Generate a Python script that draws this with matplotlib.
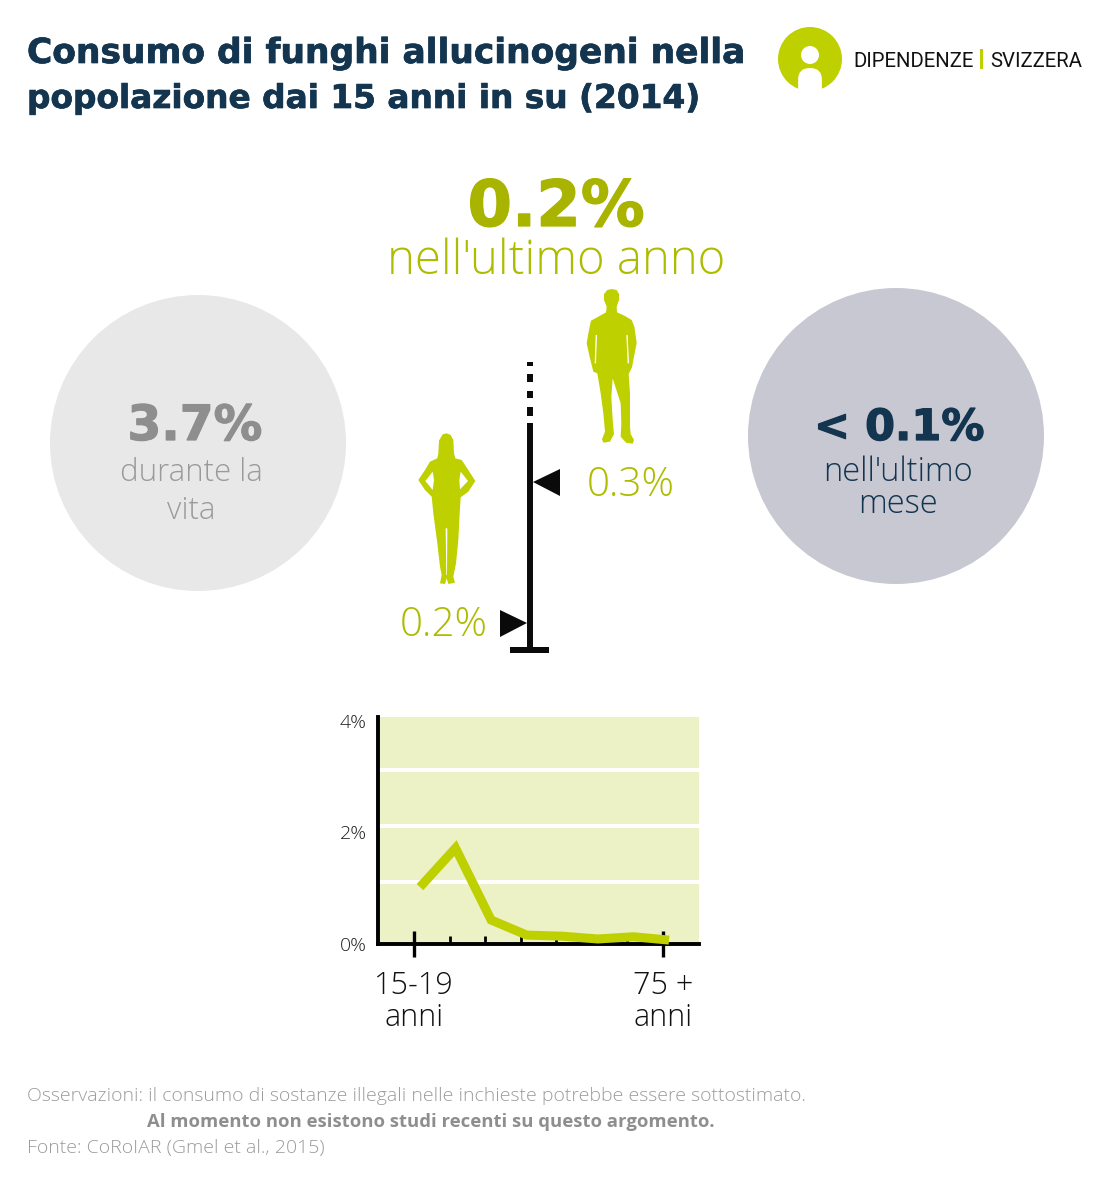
import numpy as np
import matplotlib
matplotlib.use('Agg')
import matplotlib.pyplot as plt
import matplotlib.patheffects as pe
from matplotlib.patches import Circle, Polygon, Rectangle, FancyBboxPatch
from matplotlib.transforms import Affine2D

plt.rcParams['font.family'] = ['Open Sans', 'DejaVu Sans']

# data
ages = np.arange(8)
age_labels = ['15-19\nanni', '75 +\nanni']
consumption = [1.02, 1.72, 0.43, 0.16, 0.14, 0.09, 0.13, 0.07]
y_ticks = [0, 2, 4]
y_tick_labels = ['0%', '2%', '4%']
white_lines = [1.11, 2.11, 3.12]

title_lines = ['Consumo di funghi allucinogeni nella', 'popolazione dai 15 anni in su (2014)']
note_lines = ['Osservazioni: il consumo di sostanze illegali nelle inchieste potrebbe essere sottostimato.',
              'Al momento non esistono studi recenti su questo argomento.',
              'Fonte: CoRoIAR (Gmel et al., 2015)']

NAVY = '#14354f'
LIME = '#bfd000'
OLIVE = '#aebc00'
BLACK = '#0a0a0a'

W, H = 1096, 1188
fig = plt.figure(figsize=(W / 100, H / 100), dpi=100)

# background axes in pixels of the picture
bg = fig.add_axes([0, 0, 1, 1])
bg.set_xlim(0, W)
bg.set_ylim(H, 0)
bg.axis('off')


def txt(x, y, s, size, color, weight='light', ha='center', family=None):
    return bg.text(x, y, s, fontsize=size, color=color, fontweight=weight, ha=ha, va='baseline', family=family)


def heavy(x, y, s, size, color, ha='center', stroke=0.9):
    t = txt(x, y, s, size, color, 'bold', ha, 'DejaVu Sans')
    t.set_path_effects([pe.withStroke(linewidth=stroke, foreground=color)])
    return t


# title
heavy(27, 63, title_lines[0], 24.8, NAVY, 'left', 0.5)
heavy(27, 108, title_lines[1], 23.6, NAVY, 'left', 0.5)

# logo
bg.add_patch(Circle((810, 59), 32, color=LIME, lw=0))
bg.add_patch(Circle((810, 55), 9, color='white', lw=0))
stem = FancyBboxPatch((803, 73), 14, 30, boxstyle='round,pad=0,rounding_size=6', color='white', lw=7)
bg.add_patch(stem)
txt(853, 67, 'DIPENDENZE', 14.7, '#111111', 'normal', 'left', 'Roboto')
bg.add_patch(Rectangle((980, 49), 2.5, 20, color=LIME, lw=0))
txt(990, 67, 'SVIZZERA', 14.7, '#111111', 'normal', 'left', 'Roboto')

# headline
heavy(556, 226, '0.2%', 46, '#a8b400')
txt(556, 274, "nell'ultimo anno", 34, OLIVE)

# side circles
bg.add_patch(Circle((198, 443), 148, color='#e9e8e9', lw=0))
bg.add_patch(Circle((896, 436), 148, color='#c8c8d2', lw=0))
heavy(195, 440, '3.7%', 35, '#8f8e8e')
txt(191, 481, 'durante la', 22.5, '#9a9a9a')
txt(191, 519, 'vita', 22.5, '#9a9a9a')
heavy(899, 440, '< 0.1%', 31, NAVY)
txt(898, 481, "nell'ultimo", 23.5, NAVY)
txt(898, 513, 'mese', 23.5, NAVY)

# vertical scale with its two markers
bg.plot([530, 530], [423, 650], color=BLACK, lw=4.3, solid_capstyle='butt')
for y0, y1 in [(362, 366), (374, 382), (391, 398), (407, 416)]:
    bg.plot([530, 530], [y0, y1], color=BLACK, lw=4.3, solid_capstyle='butt')
bg.add_patch(Rectangle((510, 647), 39, 6, color=BLACK, lw=0))
bg.add_patch(Polygon([(533, 482), (560, 469), (560, 496)], color=BLACK, lw=0))
bg.add_patch(Polygon([(527, 623), (500, 610), (500, 637)], color=BLACK, lw=0))
txt(631, 496, '0.3%', 29, OLIVE)
txt(444, 636, '0.2%', 29, OLIVE)

# silhouettes, traced by hand
man = [(652, 30), (665, 27), (680, 30), (687, 42), (687, 60), (680, 80), (681, 97), (705, 108), (725, 120),
       (733, 140), (740, 188), (733, 225), (726, 262), (716, 282), (720, 340), (720, 440), (722, 462),
       (732, 480), (728, 491), (708, 488), (692, 470), (694, 430), (692, 370), (668, 295), (664, 350),
       (668, 420), (672, 462), (660, 485), (640, 488), (636, 478), (645, 455), (640, 400), (632, 340),
       (622, 280), (610, 275), (600, 235), (590, 190), (597, 150), (603, 122), (625, 110), (648, 97),
       (650, 80), (642, 60), (642, 42)]
man_gaps = [[(617, 165), (621, 165), (618, 250), (614, 250)], [(709, 165), (713, 165), (717, 250), (713, 250)]]
woman = [(158, 463), (170, 460), (182, 465), (190, 480), (192, 520), (196, 535), (215, 540), (235, 570),
         (256, 603), (235, 635), (212, 652), (209, 700), (205, 780), (198, 850), (190, 890), (195, 908),
         (175, 912), (170, 895), (165, 912), (150, 910), (155, 885), (150, 860), (142, 790), (130, 700),
         (125, 650), (105, 630), (85, 600), (105, 570), (120, 545), (142, 535), (145, 520), (147, 482)]
woman_gaps = [[(128, 575), (106, 603), (128, 630), (132, 600)], [(212, 575), (234, 603), (210, 628), (208, 600)],
              [(167, 745), (172, 745), (171, 885), (169, 885)]]


def shape(points, color):
    pts = np.array(points, dtype=float) / 3 + [390, 280]
    bg.add_patch(Polygon(pts, color=color, lw=0))


shape(man, LIME)
shape(woman, LIME)
for gap in man_gaps + woman_gaps:
    shape(gap, 'white')

# footnote
txt(27, 1101, note_lines[0], 14, '#9c9c9c', 'light', 'left')
txt(147, 1127, note_lines[1], 13.3, '#8f8e8e', 'bold', 'left')
txt(27, 1153, note_lines[2], 14, '#9c9c9c', 'light', 'left')

# small line chart by age
ax = fig.add_axes([378 / W, 1 - 944 / H, 321 / W, 227 / H])
ax.set_facecolor('#ecf1c6')
ax.set_xlim(-1.01, 8.01)
ax.set_ylim(0, 4.07)
for v in white_lines:
    ax.axhline(v, color='white', lw=3, zorder=1)
shift = ax.transData + Affine2D().translate(6, 0)
ax.plot(ages, consumption, color=LIME, lw=6.5, solid_capstyle='butt', solid_joinstyle='miter',
        transform=shift, zorder=5, clip_on=False)
for side in ['top', 'right']:
    ax.spines[side].set_visible(False)
for side in ['left', 'bottom']:
    ax.spines[side].set_linewidth(2.8)
    ax.spines[side].set_color('black')
ax.set_yticks(y_ticks)
ax.set_yticklabels(y_tick_labels, fontsize=14, color='#222222', fontweight='light')
ax.tick_params(axis='y', length=0, pad=8)
ax.set_xticks([0, 7])
ax.set_xticklabels(age_labels, fontsize=22, color='#111111', fontweight='light', linespacing=1.0)
ax.set_xticks(ages[1:7], minor=True)
ax.tick_params(axis='x', which='major', direction='inout', length=19, width=2.4, pad=9)
ax.tick_params(axis='x', which='minor', direction='in', length=6, width=2)

fig.savefig('out.png', dpi=100)
